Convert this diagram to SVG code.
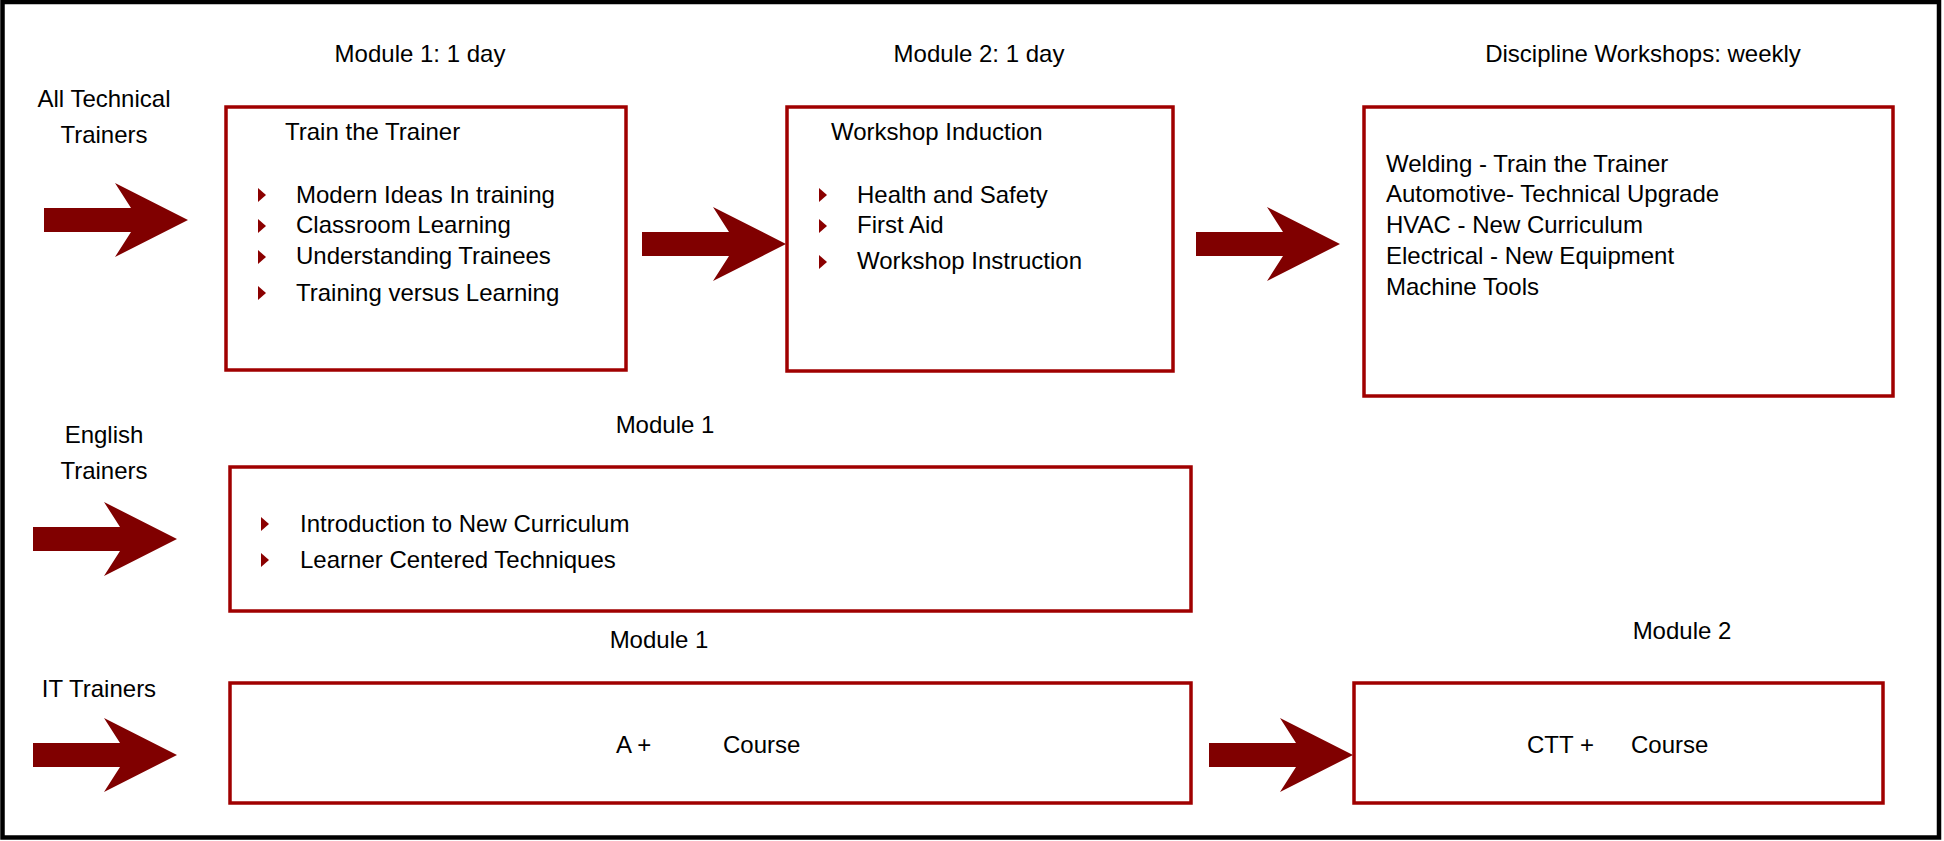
<svg xmlns="http://www.w3.org/2000/svg" xmlns:xlink="http://www.w3.org/1999/xlink" width="1944" height="841" viewBox="0 0 1944 841">
<style>
  text { font-family: "Liberation Sans", Arial, sans-serif; font-size: 24px; fill: #000; }
  .mid { text-anchor: middle; }
  .box { fill: #fff; stroke: #A00000; stroke-width: 3.5; }
  .arrow { fill: #800000; }
  .bullet { fill: #8B0000; }
</style>
<defs>
  <path id="blockArrow" d="M0,0 L-73,-37 L-57,-12 L-144,-12 L-144,12 L-57,12 L-73,37 Z"/>
  <path id="bul" d="M0,-7 L8,0 L0,7 Z"/>
</defs>
<rect x="0" y="0" width="1944" height="841" fill="#fff"/>
<rect x="2.5" y="2" width="1936.5" height="835.5" fill="none" stroke="#000" stroke-width="4.5"/>

<g id="labels">
  <text class="mid" x="104" y="107">All Technical</text>
  <text class="mid" x="104" y="143">Trainers</text>
  <text class="mid" x="104" y="443">English</text>
  <text class="mid" x="104" y="479">Trainers</text>
  <text class="mid" x="99" y="697">IT Trainers</text>
  <text class="mid" x="420" y="62">Module 1: 1 day</text>
  <text class="mid" x="979" y="62">Module 2: 1 day</text>
  <text class="mid" x="1643" y="62">Discipline Workshops: weekly</text>
  <text class="mid" x="665" y="433">Module 1</text>
  <text class="mid" x="659" y="648">Module 1</text>
  <text class="mid" x="1682" y="639">Module 2</text>
</g>

<g id="connectors">
  <use xlink:href="#blockArrow" class="arrow" x="188" y="220"/>
  <use xlink:href="#blockArrow" class="arrow" x="786" y="244"/>
  <use xlink:href="#blockArrow" class="arrow" x="1340" y="244"/>
  <use xlink:href="#blockArrow" class="arrow" x="177" y="539"/>
  <use xlink:href="#blockArrow" class="arrow" x="177" y="755"/>
  <use xlink:href="#blockArrow" class="arrow" x="1353" y="755"/>
</g>

<g id="node-train-trainer">
  <rect class="box" x="226" y="107" width="400" height="263"/>
  <text x="285" y="140">Train the Trainer</text>
  <use xlink:href="#bul" class="bullet" x="258" y="195"/>
  <text x="296" y="203">Modern Ideas In training</text>
  <use xlink:href="#bul" class="bullet" x="258" y="226"/>
  <text x="296" y="233">Classroom Learning</text>
  <use xlink:href="#bul" class="bullet" x="258" y="257"/>
  <text x="296" y="264">Understanding Trainees</text>
  <use xlink:href="#bul" class="bullet" x="258" y="293"/>
  <text x="296" y="301">Training versus Learning</text>
</g>

<g id="node-workshop-induction">
  <rect class="box" x="787" y="107" width="386" height="264"/>
  <text x="831" y="140">Workshop Induction</text>
  <use xlink:href="#bul" class="bullet" x="819" y="195"/>
  <text x="857" y="203">Health and Safety</text>
  <use xlink:href="#bul" class="bullet" x="819" y="226"/>
  <text x="857" y="233">First Aid</text>
  <use xlink:href="#bul" class="bullet" x="819" y="262"/>
  <text x="857" y="269">Workshop Instruction</text>
</g>

<g id="node-discipline-workshops">
  <rect class="box" x="1364" y="107" width="529" height="289"/>
  <text x="1386" y="172">Welding - Train the Trainer</text>
  <text x="1386" y="202">Automotive- Technical Upgrade</text>
  <text x="1386" y="233">HVAC - New Curriculum</text>
  <text x="1386" y="264">Electrical - New Equipment</text>
  <text x="1386" y="295">Machine Tools</text>
</g>

<g id="node-english-module1">
  <rect class="box" x="230" y="467" width="961" height="144"/>
  <use xlink:href="#bul" class="bullet" x="261" y="524"/>
  <text x="300" y="532">Introduction to New Curriculum</text>
  <use xlink:href="#bul" class="bullet" x="261" y="560"/>
  <text x="300" y="568">Learner Centered Techniques</text>
</g>

<g id="node-it-module1">
  <rect class="box" x="230" y="683" width="961" height="120"/>
  <text x="616" y="753">A +</text>
  <text x="723" y="753">Course</text>
</g>

<g id="node-it-module2">
  <rect class="box" x="1354" y="683" width="529" height="120"/>
  <text x="1527" y="753">CTT +</text>
  <text x="1631" y="753">Course</text>
</g>
</svg>
